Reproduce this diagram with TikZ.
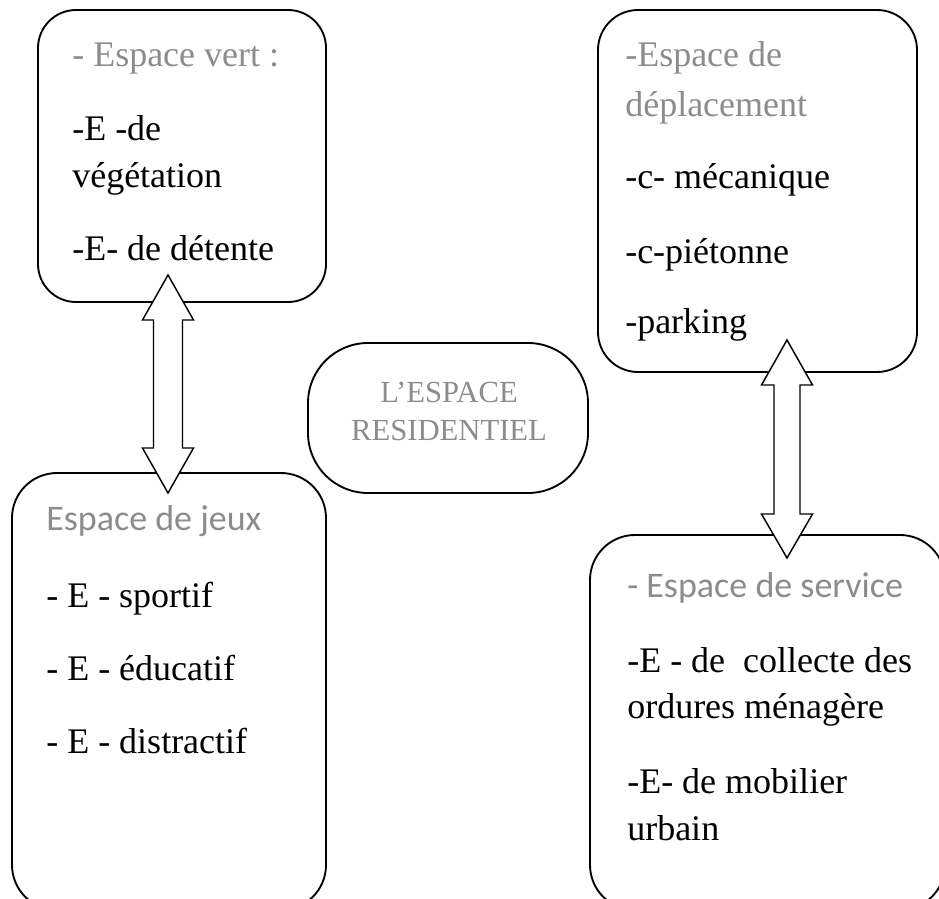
\documentclass[tikz,border=0pt]{standalone}
\usepackage{fontspec}
\setmainfont{Liberation Serif}
\newfontfamily\calib{Carlito}
\definecolor{txtgray}{HTML}{8C8C8C}
\begin{document}
\begin{tikzpicture}[x=0.75pt,y=-0.75pt,
  box/.style={draw=black,line width=1.4pt,fill=none,inner sep=0pt},
  blockarrow/.style={draw=black,line width=1.1pt,fill=white,line join=miter},
  txt/.style={anchor=base west,inner sep=0pt,font=\fontsize{27pt}{32pt}\selectfont,text=black},
  gtxt/.style={txt,text=txtgray},
  stxt/.style={txt,text=txtgray,font=\fontsize{27pt}{32pt}\selectfont\calib},
  ctxt/.style={anchor=base,inner sep=0pt,font=\fontsize{23pt}{28pt}\selectfont,text=txtgray}]
\useasboundingbox (0,0) rectangle (939,899);
\clip (0,0) rectangle (939,899);
% boxes
\node[box,rounded corners=28.5pt,minimum width=216pt,minimum height=219pt] (vert) at (182,156) {};
\node[box,rounded corners=30pt,minimum width=239.25pt,minimum height=271.5pt] (depl) at (757.5,191) {};
\node[box,rounded corners=33.75pt,minimum width=235.5pt,minimum height=327.75pt] (jeux) at (169,691.5) {};
\node[box,rounded corners=33.75pt,minimum width=266.25pt,minimum height=281.25pt] (serv) at (767.5,722.5) {};
\node[box,rounded corners=45pt,minimum width=210pt,minimum height=112.5pt] (res) at (448,418) {};
% texts box 1
\node[gtxt] (v0) at (72,67) {- Espace vert :};
\node[txt] (v1) at (72,140) {-E -de};
\node[txt] (v2) at (72,187) {végétation};
\node[txt] (v3) at (72,260) {-E- de détente};
% texts box 2
\node[gtxt] (d0) at (625,67) {-Espace de};
\node[gtxt] (d1) at (625,117) {déplacement};
\node[txt] (d2) at (625,188) {-c- mécanique};
\node[txt] (d3) at (625,263) {-c-piétonne};
\node[txt] (d4) at (625,333) {-parking};
% texts box 3
\node[stxt] (j0) at (46,530) {Espace de jeux};
\node[txt] (j1) at (46,607) {- E - sportif};
\node[txt] (j2) at (46,680) {- E - éducatif};
\node[txt] (j3) at (46,753) {- E - distractif};
% texts box 4
\node[stxt] (s0) at (627,597) {- Espace de service};
\node[txt] (s1) at (627,672) {-E - de\ \ collecte des};
\node[txt] (s2) at (627,718) {ordures ménagère};
\node[txt] (s3) at (627,793) {-E- de mobilier};
\node[txt] (s4) at (627,840) {urbain};
% centre
\node[ctxt] (r1) at (449,402) {L’ESPACE};
\node[ctxt] (r2) at (449,440) {RESIDENTIEL};
% arrows
\coordinate (la1) at (168,275);
\coordinate (la2) at (168,493);
\draw[blockarrow] (la1) -- ++(25.5,45) -- ++(-11,0) -- ++(0,128) -- ++(11,0) -- (la2)
  -- ++(-25.5,-45) -- ++(11,0) -- ++(0,-128) -- ++(-11,0) -- cycle;
\coordinate (ra1) at (787,340);
\coordinate (ra2) at (787,558);
\draw[blockarrow] (ra1) -- ++(25.5,45) -- ++(-12.5,0) -- ++(0,129) -- ++(12.5,0) -- (ra2)
  -- ++(-25.5,-44) -- ++(12.5,0) -- ++(0,-129) -- ++(-12.5,0) -- cycle;
\end{tikzpicture}
\end{document}
